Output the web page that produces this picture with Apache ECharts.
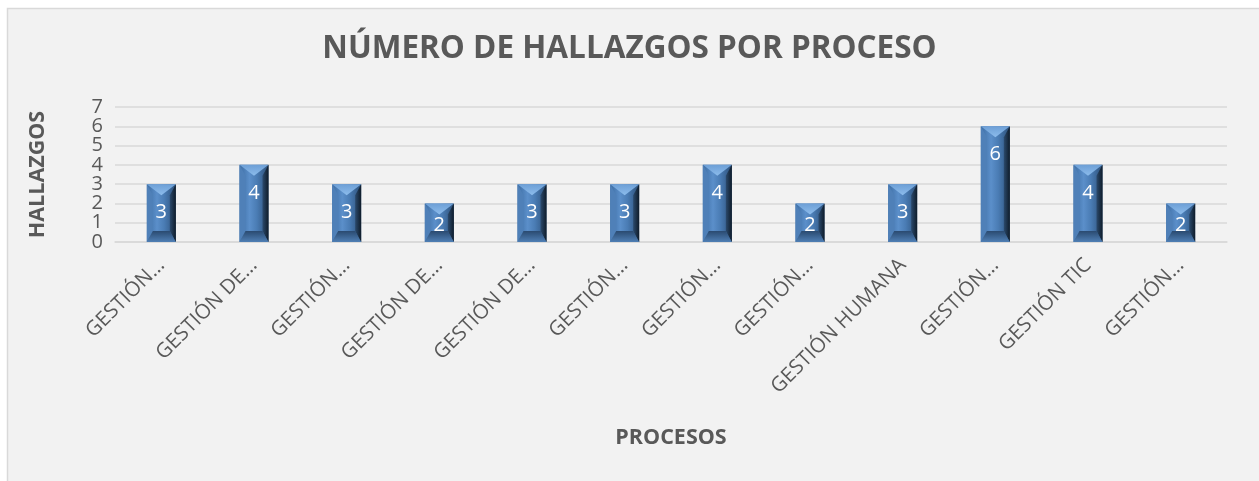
<!DOCTYPE html>
<html>
<head>
<meta charset="utf-8">
<script src="https://cdn.jsdelivr.net/npm/echarts@6/dist/echarts.min.js"></script>
<style>
html,body{margin:0;padding:0;background:#ffffff;}
#chart{width:1259px;height:481px;}
</style>
</head>
<body>
<div id="chart"></div>
<script>
const categories = ["GESTIÓN…","GESTIÓN DE…","GESTIÓN…","GESTIÓN DE…","GESTIÓN DE…","GESTIÓN…","GESTIÓN…","GESTIÓN…","GESTIÓN HUMANA","GESTIÓN…","GESTIÓN TIC","GESTIÓN…"];
const hallazgos = [3,4,3,2,3,3,4,2,3,6,4,2];
const yTicks = [0,1,2,3,4,5,6,7];

const chart = echarts.init(document.getElementById('chart'), null, {renderer:'canvas'});
const FONT = '"Open Sans", "Liberation Sans", sans-serif';

function renderBar(params, api){
  const idx = api.value(0);
  const val = api.value(1);
  const top = api.coord([idx, val]);
  const base = api.coord([idx, 0]);
  const bw = 29;
  const x0 = top[0] - bw/2, x1 = top[0] + bw/2, xc = top[0];
  const y0 = top[1], y1 = base[1];
  const h = y1 - y0;
  const t = Math.min(11, h/3);
  const s = 6;
  const children = [
    {type:'rect', shape:{x:x0,y:y0,width:bw,height:h},
     style:{fill:new echarts.graphic.LinearGradient(0,0,1,0,[
       {offset:0,color:'#3d6da3'},{offset:0.35,color:'#5b8fca'},{offset:0.6,color:'#4a7cb4'},{offset:1,color:'#2c4f78'}])}},
    {type:'polygon', shape:{points:[[x1,y0],[x1-s,y0+t],[x1-s,y1-t],[x1,y1]]},
     style:{fill:new echarts.graphic.LinearGradient(0,0,1,0,[{offset:0,color:'#2b4a6d'},{offset:1,color:'#0f1c2a'}])}},
    {type:'polygon', shape:{points:[[x0,y0],[x0+s,y0+t],[x0+s,y1-t],[x0,y1]]},
     style:{fill:'#4f80b8'}},
    {type:'polygon', shape:{points:[[x0,y0],[x1,y0],[xc,y0+t]]},
     style:{fill:new echarts.graphic.LinearGradient(0,0,0,1,[{offset:0,color:'#6d9fd6'},{offset:1,color:'#8cbcec'}])}},
    {type:'polygon', shape:{points:[[x0,y1],[x1,y1],[x1-s,y1-t],[x0+s,y1-t]]},
     style:{fill:new echarts.graphic.LinearGradient(0,0,0,1,[{offset:0,color:'#2a4a70'},{offset:1,color:'#4f7fb5'}])}},
    {type:'text', x: xc, y: y0 + Math.min(28, h/2 + 3),
     style:{text:String(val), fill:'#ffffff', font:'20px ' + FONT, align:'center', verticalAlign:'middle'}}
  ];
  return {type:'group', children};
}

const yLabelStyle = {fontFamily:FONT, fontSize:20, color:'#595959'};
const yMin = yTicks[0], yMax = yTicks[yTicks.length - 1];

chart.setOption({
  backgroundColor:'#ffffff',
  animation:false,
  graphic:[{type:'rect', z:-10, shape:{x:7.5,y:8.5,width:1260,height:480},
    style:{fill:'#f2f2f2', stroke:'#d9d9d9', lineWidth:1.5}}],
  title:{text:'NÚMERO DE HALLAZGOS POR PROCESO', left:'center', top:28,
    textStyle:{fontFamily:FONT, fontWeight:'bold', fontSize:31.5, color:'#595959'}},
  grid:{left:115, right:32, top:107, bottom:239, containLabel:false},
  xAxis:{type:'category', data:categories,
    name:'PROCESOS', nameLocation:'middle', nameGap:185,
    nameTextStyle:{fontFamily:FONT, fontWeight:'bold', fontSize:21.5, color:'#595959'},
    axisLine:{show:true, lineStyle:{color:'#d9d9d9', width:1.5}},
    axisTick:{show:false},
    axisLabel:{rotate:45, interval:0, margin:20, fontFamily:FONT, fontSize:20.5, color:'#595959'}},
  yAxis:[
    {type:'value', min:yMin, max:yMax, interval:1, position:'left',
      name:'HALLAZGOS', nameLocation:'middle', nameGap:66, nameRotate:90,
      nameTextStyle:{fontFamily:FONT, fontWeight:'bold', fontSize:21.5, color:'#595959'},
      axisLine:{show:false}, axisTick:{show:false},
      axisLabel:Object.assign({margin:12, showMinLabel:false, showMaxLabel:false}, yLabelStyle),
      splitLine:{lineStyle:{color:'#d9d9d9', width:1.5}}},
    {type:'value', min:yMin, max:yMax, interval:1, position:'left', offset:0,
      axisLine:{show:false}, axisTick:{show:false}, splitLine:{show:false},
      axisLabel:Object.assign({margin:12, showMinLabel:true, showMaxLabel:true,
        formatter:(v)=> (v === yMin || v === yMax) ? String(v) : ''}, yLabelStyle)}
  ],
  series:[{type:'custom', renderItem:renderBar, encode:{x:0,y:1}, yAxisIndex:0,
    data:hallazgos.map((v,i)=>[i,v])}]
});
</script>
</body>
</html>
